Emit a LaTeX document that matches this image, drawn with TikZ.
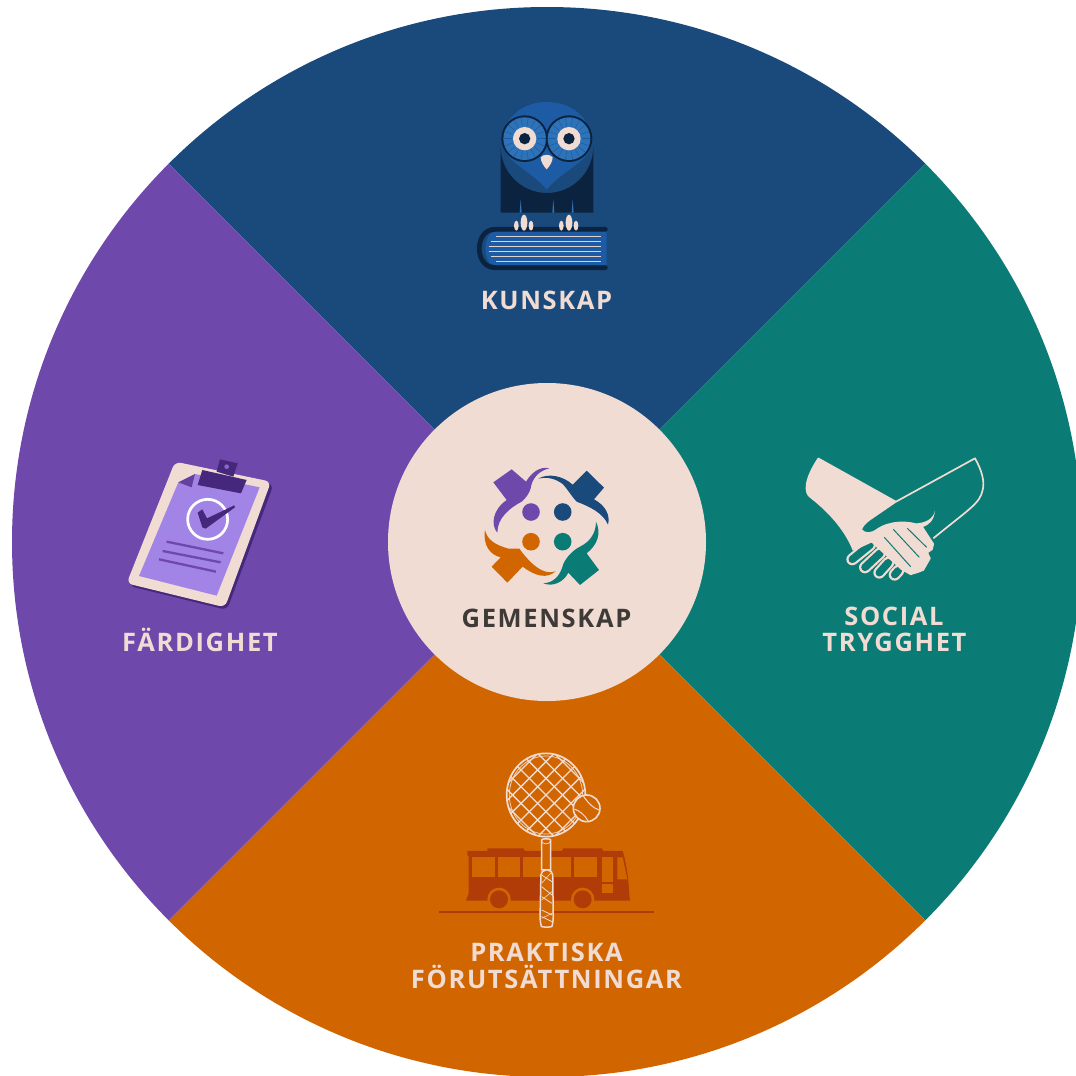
\documentclass[tikz,border=0pt]{standalone}
\usepackage{fontspec}
\setmainfont{Open Sans}[LetterSpace=6.5]
\definecolor{cblue}{HTML}{1A4A7C}
\definecolor{cteal}{HTML}{0B7B75}
\definecolor{cpurple}{HTML}{6F48AB}
\definecolor{corange}{HTML}{D16600}
\definecolor{ccream}{HTML}{F1DCD3}
\definecolor{ctext}{HTML}{3D3A38}
\definecolor{cnavy}{HTML}{0C2340}
\definecolor{cowl}{HTML}{1D5CA4}
\definecolor{cowlb}{HTML}{2E72B8}
\definecolor{cbus}{HTML}{B23C08}
\definecolor{cpaper}{HTML}{A284E6}
\definecolor{cclip}{HTML}{45287C}
\tikzset{
 lab/.style={font=\bfseries\fontsize{25.5}{27}\selectfont,text=ccream,inner sep=0pt,anchor=base},
 zoomed/.style={x=0.3333pt,y=-0.3333pt},
 fingeroutline/.style={line cap=round,line width=12pt,draw=ccream},
 fingerinner/.style={line cap=round,line width=7.6pt,draw=cteal},
}
\begin{document}
\begin{tikzpicture}[x=1pt,y=-1pt]
\useasboundingbox (0,0) rectangle (1076,1076);
\fill[white] (0,0) rectangle (1076,1076);
\begin{scope}
 \clip (547,542) circle [radius=535];
 \fill[cblue] (547,542) -- (-10,-15) -- (1104,-15) -- cycle;
 \fill[cteal] (547,542) -- (1104,-15) -- (1104,1099) -- cycle;
 \fill[corange] (547,542) -- (1104,1099) -- (-10,1099) -- cycle;
 \fill[cpurple] (547,542) -- (-10,1099) -- (-10,-15) -- cycle;
\end{scope}
\node[circle,fill=ccream,minimum size=318pt,inner sep=0pt] (hub) at (547,542) {};

% ---- owl + book
\begin{scope}[shift={(450,80)},zoomed]
 \fill[cnavy] (152,398) -- (152,200) arc[start angle=180,end angle=0,radius=139] -- (430,398) -- cycle;
 \fill[cowl] (158,190) .. controls (158,110) and (220,66) .. (291,66)
   .. controls (362,66) and (424,110) .. (424,190)
   .. controls (424,240) and (340,270) .. (290,328)
   .. controls (240,270) and (158,240) .. (158,190) -- cycle;
 \foreach \ex in {224,357}{
  \fill[cnavy] (\ex,176) circle[radius=70];
  \fill[cowlb] (\ex,176) circle[radius=64];
  \foreach \a in {0,20,...,340}{\draw[cowl,line width=0.5pt] (\ex,176) ++(\a:38) -- ++(\a:26);}
  \fill[ccream] (\ex,176) circle[radius=35];
  \fill[cnavy] (\ex,176) circle[radius=17];
 }
 \fill[ccream] (272,232) .. controls (280,222) and (300,222) .. (308,232) .. controls (308,245) and (298,260) .. (290,268) .. controls (282,260) and (272,245) .. (272,232) -- cycle;
 \foreach \nx in {212,310,368}{\fill[cowlb] (\nx-3,398) -- (\nx,358) -- (\nx+3,398) -- cycle;}
 \fill[cowl] (470,455) -- (135,455) .. controls (100,455) and (95,555) .. (135,555) -- (470,555) -- cycle;
 \draw[cnavy,line width=4.8pt,line cap=round] (466,448) -- (135,448) .. controls (72,448) and (72,563) .. (135,563) -- (466,563);
 \foreach \ly/\lx in {470/138,485/122,500/116,515/116,530/122,545/138}{\draw[ccream!90!cowlb,line width=1.6pt] (\lx,\ly) -- (453,\ly);}
 \foreach \fx in {222,357}{
  \fill[ccream] (\fx,428) ellipse[x radius=10,y radius=24];
  \fill[ccream] (\fx-23,437) ellipse[x radius=7,y radius=15];
  \fill[ccream] (\fx+21,437) ellipse[x radius=7,y radius=15];
 }
\end{scope}
\node[lab] (kunskap) at (546.5,309) {KUNSKAP};

% ---- community logo
\begin{scope}[shift={(440,450)},zoomed]
 \fill[cpurple] (215,58) -- (258,95)
   .. controls (274,68) and (300,48) .. (328,55)
   .. controls (297,62) and (276,85) .. (272,115)
   .. controls (268,130) and (257,145) .. (245,155)
   .. controls (207,175) and (172,205) .. (172,248)
   .. controls (152,225) and (157,180) .. (200,150)
   -- (160,97) -- cycle;
 \fill[cblue] (440,62) -- (492,113) -- (462,148)
   .. controls (495,165) and (512,195) .. (504,224)
   .. controls (490,190) and (450,170) .. (410,155)
   .. controls (395,140) and (385,120) .. (368,102)
   .. controls (345,85) and (320,80) .. (295,86)
   .. controls (325,68) and (370,78) .. (398,104) -- cycle;
 \fill[cteal] (468,215)
   .. controls (485,250) and (472,285) .. (440,310)
   -- (477,360) -- (420,405) -- (385,368)
   .. controls (372,395) and (340,412) .. (310,400)
   .. controls (340,398) and (360,380) .. (370,342)
   .. controls (380,320) and (400,300) .. (420,290)
   .. controls (450,275) and (468,250) .. (468,215) -- cycle;
 \fill[corange] (135,240)
   .. controls (142,270) and (165,284) .. (205,296)
   -- (238,296)
   .. controls (270,340) and (310,378) .. (347,364)
   .. controls (320,388) and (285,378) .. (248,350)
   -- (202,398) -- (155,350) -- (182,322)
   .. controls (150,315) and (128,285) .. (135,240) -- cycle;
\end{scope}
\fill[cpurple] (531,512) circle[radius=8.8];
\fill[cblue] (562.7,512) circle[radius=8.8];
\fill[corange] (531,541.7) circle[radius=8.8];
\fill[cteal] (562.7,541.7) circle[radius=8.8];
\node[lab,text=ctext] (gemenskap) at (546.5,627) {GEMENSKAP};

% ---- handshake
\begin{scope}[shift={(790,440)},zoomed]
 \foreach \ax/\ay/\bx/\by in {240/315/187/358,270/340/225/382,295/368/268/398,325/392/314/404}{
  \draw[fingeroutline] (\ax,\ay) -- (\bx,\by);
  \draw[fingerinner] (\ax,\ay) -- (\bx,\by);
 }
 \filldraw[ccream,line width=1.5pt,line join=round] (85,55) -- (318,185) -- (245,235) .. controls (225,248) and (214,262) .. (214,270)
   .. controls (225,282) and (245,282) .. (262,268)
   .. controls (295,245) and (350,240) .. (395,258)
   -- (430,312) -- (426,328) -- (412,338) -- (420,355) -- (400,390) -- (385,396) -- (362,403) -- (335,388) -- (245,305)
   -- (190,330)
   .. controls (170,280) and (130,225) .. (62,172)
   .. controls (42,160) and (42,120) .. (85,55) -- cycle;
 \foreach \ax/\ay/\bx/\by in {283/292/362/380,310/268/388/352,352/265/410/322}{\draw[cteal,line width=1pt] (\ax,\ay) -- (\bx,\by);}
 \draw[ccream,line width=1.7pt,line join=round] (318,185) -- (555,55) .. controls (575,90) and (585,125) .. (578,150) .. controls (570,190) and (540,205) .. (430,295);
 \fill[ccream] (395,262) .. controls (420,255) and (432,240) .. (435,212) .. controls (430,235) and (410,248) .. (380,250) -- cycle;
\end{scope}
\node[lab] (social) at (894,625) {SOCIAL};
\node[lab] (trygghet) at (894.5,651) {TRYGGHET};

% ---- bus + racket
\begin{scope}[shift={(430,740)},zoomed]
 \fill[cbus] (172,333) -- (172,325) -- (280,325) -- (285,333) -- (395,333) -- (400,325) -- (515,325) -- (520,333) -- (578,333)
   .. controls (590,370) and (596,420) .. (598,465) -- (600,482) -- (490,482) -- (490,472) -- (425,472) -- (425,482) -- (240,482) -- (240,472) -- (175,472) -- (175,482) -- (108,482) -- (116,460) -- (116,350) -- (112,345) -- (112,333) -- cycle;
 \foreach \wx/\wy/\ww in {127/352/68,204/352/66,280/352/66,354/352/68,432/352/68}{\fill[corange] (\wx,\wy) rectangle ++(\ww,59);}
 \fill[corange] (516,352) rectangle (548,425);
 \fill[corange] (516,432) rectangle (548,458);
 \fill[corange] (562,352) -- (578,352) -- (592,418) -- (562,418) -- cycle;
 \foreach \wx in {207,458}{
  \fill[corange] (\wx,478) circle[radius=35];
  \fill[cbus] (\wx,478) circle[radius=27];
 }
 \draw[cbus,line width=2pt] (28,517) -- (672,517);
 % racket
 \begin{scope}
  \clip (348,165) ellipse[x radius=118,y radius=125];
  \foreach \s in {-200,-150,...,200}{
   \draw[ccream,line width=1.3pt] ({348+\s-150},15) -- ({348+\s+150},315);
   \draw[ccream,line width=1.3pt] ({348+\s+150},15) -- ({348+\s-150},315);
  }
 \end{scope}
 \draw[ccream,line width=1.7pt] (348,165) ellipse[x radius=118,y radius=125];
 \draw[ccream,line width=0.7pt] (348,165) ellipse[x radius=110,y radius=117];
 \fill[corange,draw=ccream,line width=1.5pt] (335,300) -- (335,390) -- (362,390) -- (362,300) .. controls (362,295) and (335,295) .. (335,300) -- cycle;
 \draw[ccream,line width=0.7pt] (333,302) .. controls (340,315) and (356,315) .. (363,302);
 \fill[corange,draw=ccream,line width=1.5pt,rounded corners=5pt] (333,390) -- (368,390) -- (370,545) .. controls (365,562) and (335,562) .. (330,545) -- cycle;
 \foreach \ya/\yb in {405/425,440/465,470/490,510/525,530/545}{\draw[ccream,line width=0.8pt] (335,\ya) -- (366,\yb);}
 \foreach \ya/\yb in {395/430,455/480,520/535}{\draw[ccream,line width=0.6pt] (335,\yb) -- (366,\ya);}
 \fill[corange,draw=ccream,line width=1.6pt] (470,205) circle[radius=40];
 \draw[ccream,line width=1pt] (460,168) .. controls (475,190) and (490,205) .. (508,210);
 \draw[ccream,line width=1pt] (433,207) .. controls (448,212) and (465,225) .. (475,244);
\end{scope}
\node[lab] (praktiska) at (546.5,961) {PRAKTISKA};
\node[lab] (forutsattningar) at (546.5,988) {FÖRUTSÄTTNINGAR};

% ---- clipboard
\begin{scope}[shift={(115,450)},zoomed]
 \fill[cclip,rounded corners=6pt] (187,42) -- (476,103) -- (336,480) -- (42,408) -- cycle;
 \fill[ccream,rounded corners=6pt] (180,35) -- (468,95) -- (330,472) -- (35,400) -- cycle;
 \fill[cpaper] (190,97) -- (240,72) -- (434,112) -- (305,437) -- (72,378) -- cycle;
 \fill[cpurple!75!cclip] (190,97) -- (240,72) -- (230,112) -- cycle;
 \fill[cclip] (262,60) -- (395,90) -- (378,130) -- (248,105) -- cycle;
 \fill[cclip] (315,28) -- (368,40) -- (355,80) -- (305,65) -- cycle;
 \fill[cpaper!70!cclip] (335,50) circle[radius=7];
 \draw[white,line width=2.7pt] (278,208) circle[radius=60];
 \fill[cclip] (248,188) -- (262,178) -- (276,205) -- (358,166) -- (360,172) -- (272,236) -- (262,232) -- cycle;
 \foreach \ax/\ay/\bx/\by in {155/275/325/310,143/303/317/337,132/328/303/365}{\draw[cpurple,line width=2.3pt] (\ax,\ay) -- (\bx,\by);}
\end{scope}
\node[lab] (fardighet) at (200,651) {FÄRDIGHET};
\end{tikzpicture}
\end{document}
